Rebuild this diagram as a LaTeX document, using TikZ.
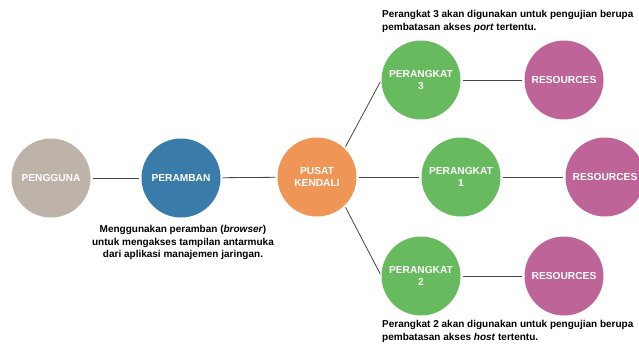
\documentclass[tikz,border=0pt]{standalone}
\usepackage{fontspec}
\setmainfont{Liberation Sans}
\definecolor{cgray}{HTML}{BDB3A9}
\definecolor{cblue}{HTML}{3A7CA9}
\definecolor{corange}{HTML}{EF9555}
\definecolor{cgreen}{HTML}{68BA5E}
\definecolor{cpink}{HTML}{BF6498}
\definecolor{cline}{HTML}{444444}
\begin{document}
\begin{tikzpicture}[x=1pt,y=-1pt,
  ball/.style={circle,minimum size=79pt,inner sep=0pt,text=white,font=\fontsize{10.2}{11.5}\selectfont\bfseries,align=center},
  link/.style={draw=cline,line width=0.8pt,shorten <=2pt,shorten >=2pt},
  note/.style={font=\fontsize{10}{12.6}\selectfont\bfseries,text=black,inner sep=0pt}]
\useasboundingbox (0,0) rectangle (639,345);
\node[ball,fill=cgray] (peng) at (51,178) {PENGGUNA};
\node[ball,fill=cblue] (peram) at (181,178) {PERAMBAN};
\node[ball,fill=corange] (pusat) at (317,177) {PUSAT\\KENDALI};
\node[ball,fill=cgreen] (p1) at (461,177) {PERANGKAT\\1};
\node[ball,fill=cpink] (r1) at (605,177) {RESOURCES};
\node[ball,fill=cgreen] (p3) at (421,80) {PERANGKAT\\3};
\node[ball,fill=cpink] (r3) at (564,80) {RESOURCES};
\node[ball,fill=cgreen] (p2) at (421,276) {PERANGKAT\\2};
\node[ball,fill=cpink] (r2) at (564,276) {RESOURCES};
\path[link] (peng) -- (peram);
\path[link] (peram) -- (pusat);
\path[link] (pusat) -- (p1);
\path[link] (p1) -- (r1);
\path[link] (p3) -- (r3);
\path[link] (p2) -- (r2);
\path[link] (pusat.46) -- (p3.west);
\path[link] (pusat.-46) -- (p2.west);
\node[note,align=center,anchor=north] (n0) at (183,225) {Menggunakan peramban (\textit{browser})\\untuk mengakses tampilan antarmuka\\dari aplikasi manajemen jaringan.};
\node[note,align=left,anchor=north west] (n3) at (382,10) {Perangkat 3 akan digunakan untuk pengujian berupa\\pembatasan akses \textit{port} tertentu.};
\node[note,align=left,anchor=north west] (n2) at (382,320) {Perangkat 2 akan digunakan untuk pengujian berupa\\pembatasan akses \textit{host} tertentu.};
\end{tikzpicture}
\end{document}
